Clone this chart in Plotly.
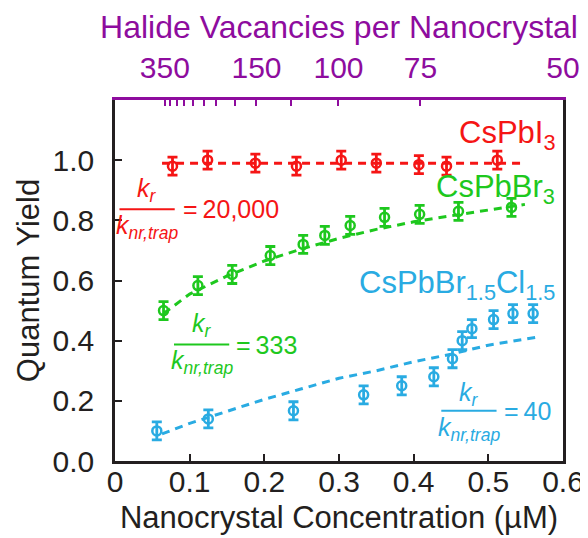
import plotly.graph_objects as go

# CsPbI3
conc_i = [0.077, 0.124, 0.188, 0.243, 0.303, 0.350, 0.407, 0.444, 0.512]
qy_i = [0.98, 1.00, 0.99, 0.98, 1.00, 0.99, 0.985, 0.98, 1.00]
fit_conc_i = [0.063, 0.2, 0.35, 0.5, 0.545]
fit_qy_i = [0.99, 0.99, 0.99, 0.99, 0.99]

# CsPbBr3
conc_br = [0.065, 0.111, 0.157, 0.208, 0.252, 0.281, 0.315, 0.361, 0.408, 0.460, 0.531]
qy_br = [0.50, 0.583, 0.62, 0.683, 0.72, 0.75, 0.783, 0.81, 0.82, 0.83, 0.843]
fit_conc_br = [0.065, 0.1, 0.15, 0.2, 0.25, 0.3, 0.35, 0.4, 0.45, 0.5, 0.549]
fit_qy_br = [0.49, 0.555, 0.615, 0.665, 0.705, 0.74, 0.77, 0.795, 0.815, 0.835, 0.853]

# CsPbBr1.5Cl1.5
conc_cl = [0.056, 0.125, 0.239, 0.333, 0.384, 0.427, 0.452, 0.465, 0.478, 0.507, 0.533, 0.560]
qy_cl = [0.10, 0.14, 0.167, 0.22, 0.25, 0.28, 0.34, 0.40, 0.44, 0.47, 0.49, 0.49]
fit_conc_cl = [0.063, 0.1, 0.15, 0.2, 0.25, 0.3, 0.35, 0.4, 0.45, 0.5, 0.569]
fit_qy_cl = [0.09, 0.125, 0.165, 0.205, 0.24, 0.275, 0.30, 0.33, 0.355, 0.385, 0.413]

qy_err = 0.03

# top axis: vacancies per nanocrystal (labelled ticks and unlabelled minor ticks)
vac_labels = ["350", "150", "100", "75", "50"]
vac_tick_conc = [0.0667, 0.1895, 0.2993, 0.409, 0.6]
vac_minor_conc = [0.0732, 0.0824, 0.0928, 0.1046, 0.119, 0.1346, 0.1608, 0.2353]

RED = "#F51515"
GREEN = "#1EC81E"
BLUE = "#29ABE2"
PURPLE = "#8E0C9E"
INK = "#231F20"
FONT = "Liberation Sans, Arial, sans-serif"

fig = go.Figure()


def add_series(x, y, fx, fy, color):
    fig.add_trace(go.Scatter(
        x=fx, y=fy, mode="lines",
        line=dict(color=color, width=3, dash="8px,6px"),
        hoverinfo="skip"))
    fig.add_trace(go.Scatter(
        x=x, y=y, mode="markers",
        marker=dict(symbol="circle-open", size=9, color=color,
                    line=dict(width=2.5, color=color)),
        error_y=dict(type="constant", value=qy_err, color=color,
                     thickness=2.8, width=5)))


add_series(conc_i, qy_i, fit_conc_i, fit_qy_i, RED)
add_series(conc_br, qy_br, fit_conc_br, fit_qy_br, GREEN)
add_series(conc_cl, qy_cl, fit_conc_cl, fit_qy_cl, BLUE)

# invisible trace on the top axis so it renders
fig.add_trace(go.Scatter(x=[0, 0.6], y=[None, None], xaxis="x2",
                         mode="markers", showlegend=False, hoverinfo="skip"))


def ratio(xc, ynum, yline, yden, half, value, color, eq_x):
    fig.add_annotation(x=xc, y=ynum, text="<i>k<sub>r</sub></i>",
                       font=dict(size=25, color=color, family=FONT),
                       showarrow=False)
    fig.add_annotation(x=xc, y=yden, text="<i>k<sub>nr,trap</sub></i>",
                       font=dict(size=25, color=color, family=FONT),
                       showarrow=False)
    fig.add_shape(type="line", x0=xc - half, x1=xc + half, y0=yline, y1=yline,
                  line=dict(color=color, width=2))
    fig.add_annotation(x=eq_x, y=yline, text="=\u2009" + value, xanchor="left",
                       font=dict(size=25, color=color, family=FONT),
                       showarrow=False)


ratio(0.043, 0.902, 0.837, 0.778, 0.037, "20,000", RED, 0.088)
ratio(0.116, 0.452, 0.387, 0.328, 0.037, "333", GREEN, 0.160)
ratio(0.474, 0.222, 0.167, 0.108, 0.037, "40", BLUE, 0.518)

fig.add_annotation(x=0.592, y=1.085, text="CsPbI<sub>3</sub>", xanchor="right",
                   font=dict(size=31, color=RED, family=FONT), showarrow=False)
fig.add_annotation(x=0.592, y=0.905, text="CsPbBr<sub>3</sub>", xanchor="right",
                   font=dict(size=31, color=GREEN, family=FONT), showarrow=False)
fig.add_annotation(x=0.592, y=0.585, text="CsPbBr<sub>1.5</sub>Cl<sub>1.5</sub>",
                   xanchor="right",
                   font=dict(size=31, color=BLUE, family=FONT), showarrow=False)

fig.update_layout(
    width=588, height=538,
    margin=dict(l=107, r=22, t=92, b=85),
    plot_bgcolor="white", paper_bgcolor="white",
    showlegend=False,
    font=dict(family=FONT, color=INK),
    xaxis=dict(
        range=[0, 0.6], tickvals=[0, 0.1, 0.2, 0.3, 0.4, 0.5, 0.6],
        ticktext=["0", "0.1", "0.2", "0.3", "0.4", "0.5", "0.6"],
        ticks="inside", ticklen=7, tickwidth=2, tickcolor=INK,
        ticklabelstandoff=-8,
        showline=True, linecolor=INK, linewidth=2.5,
        showgrid=False, zeroline=False,
        tickfont=dict(size=30, color=INK),
        title=dict(text="Nanocrystal Concentration (µM)",
                   font=dict(size=31, color=INK), standoff=10),
    ),
    xaxis2=dict(
        range=[0, 0.6], overlaying="x", side="top", anchor="y",
        tickvals=vac_tick_conc, ticktext=vac_labels,
        ticks="inside", ticklen=6, tickwidth=2, tickcolor=PURPLE,
        ticklabelstandoff=7,
        minor=dict(tickvals=vac_minor_conc, ticks="inside", ticklen=6,
                   tickwidth=2, tickcolor=PURPLE, showgrid=False),
        showline=True, linecolor=PURPLE, linewidth=2.5,
        showgrid=False, zeroline=False,
        tickfont=dict(size=30, color=PURPLE),
        title=dict(text="Halide Vacancies per Nanocrystal",
                   font=dict(size=32, color=PURPLE), standoff=4),
    ),
    yaxis=dict(
        range=[0, 1.2], tickvals=[0, 0.2, 0.4, 0.6, 0.8, 1.0],
        tickformat=".1f",
        ticks="inside", ticklen=7, tickwidth=2, tickcolor=INK,
        ticklabelstandoff=12,
        showline=True, linecolor=INK, linewidth=2.5, mirror=True,
        showgrid=False, zeroline=False,
        tickfont=dict(size=30, color=INK),
        title=dict(text="Quantum Yield", font=dict(size=31, color=INK),
                   standoff=4),
    ),
)

fig.write_html("out.html")
